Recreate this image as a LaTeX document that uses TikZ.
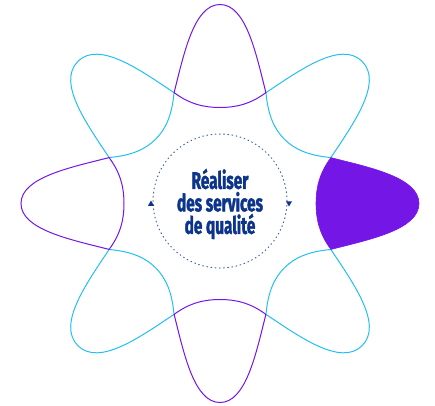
\documentclass[tikz,border=0pt]{standalone}
\usepackage{fontspec}
\newfontfamily\titlefont{Fira Sans}[FakeStretch=0.64, BoldFeatures={FakeBold=1.5}]
\usetikzlibrary{shapes.geometric}
\definecolor{purp}{RGB}{116,22,230}
\definecolor{cyanl}{RGB}{34,192,242}
\definecolor{navy}{RGB}{12,52,140}
\definecolor{dotc}{RGB}{70,100,165}
\tikzset{
  purpline/.style={draw=purp, line width=1pt},
  cyanline/.style={draw=cyanl, line width=1pt},
  purpfill/.style={fill=purp, draw=purp, line width=0.6pt},
  ring/.style={circle, draw=dotc, line width=1pt, dash pattern=on 0.9pt off 3.3pt, line cap=round, minimum size=134pt, inner sep=0pt},
  tri/.style={regular polygon, regular polygon sides=3, fill=navy, inner sep=0pt, minimum size=7pt},
  title/.style={font=\titlefont\bfseries\fontsize{24}{22.5}\selectfont, text=navy, align=center, inner sep=0pt}
}
\begin{document}
\begin{tikzpicture}[x=1pt, y=-1pt]
\useasboundingbox (0,0) rectangle (435,405);
\begin{scope}[shift={(220,203.5)}]
  \foreach \a in {45,135,225,315} {
    \draw[cyanline, rotate=\a] (110.9,45.9) .. controls (150,38) and (201,30) .. (201,0)
      .. controls (201,-30) and (150,-38) .. (110.9,-45.9)
      .. controls (96,-28) and (91,-14) .. (91,0)
      .. controls (91,14) and (96,28) .. (110.9,45.9) -- cycle;
  }
  \foreach \a in {90,180,270} {
    \draw[purpline, rotate=\a] (110.9,45.9) .. controls (150,36) and (199,26) .. (199,0)
      .. controls (199,-26) and (150,-36) .. (110.9,-45.9)
      .. controls (99,-30) and (96,-15) .. (96,0)
      .. controls (96,15) and (99,30) .. (110.9,45.9) -- cycle;
  }
  \path[purpfill] (110.9,45.9) .. controls (150,36) and (199,26) .. (199,0)
      .. controls (199,-26) and (150,-36) .. (110.9,-45.9)
      .. controls (99,-30) and (96,-15) .. (96,0)
      .. controls (96,15) and (99,30) .. (110.9,45.9) -- cycle;
\end{scope}
\node[ring] (ring) at (220,201) {};
\node[tri] (tl) at (151,204) {};
\node[tri, shape border rotate=180] (tr) at (289,203) {};
\node[title] (title) at (220,204) {Réaliser\\des services\\de qualité};
\end{tikzpicture}
\end{document}
